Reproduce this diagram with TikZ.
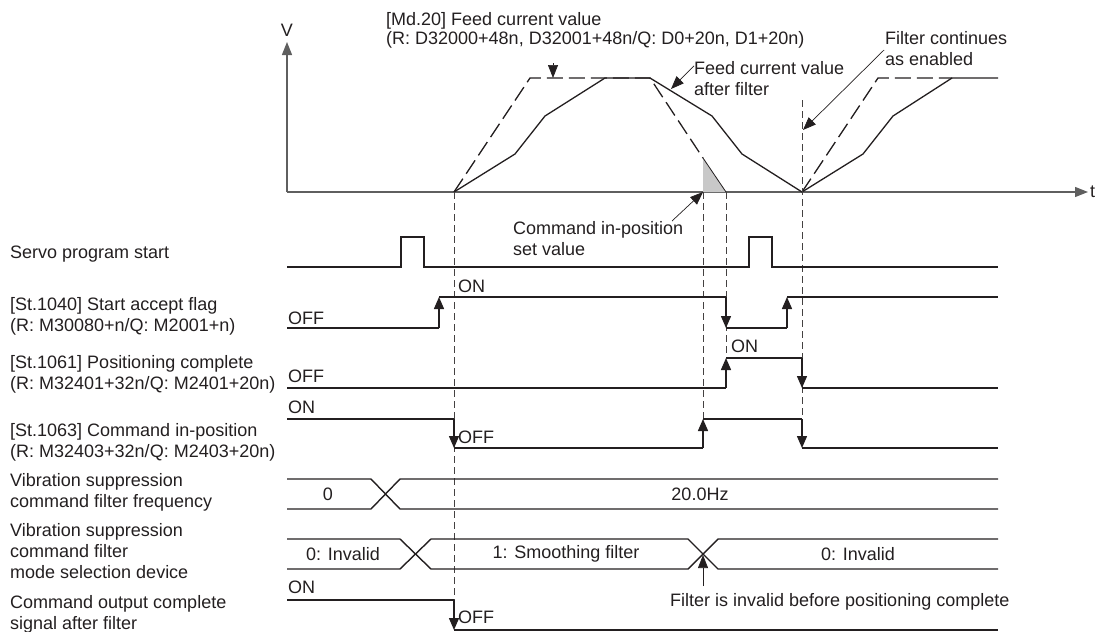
\documentclass[tikz,border=0pt]{standalone}
\usepackage{fontspec}
\setmainfont{Liberation Sans}
\usepackage{xcolor}
\usepackage{tikz}
\usetikzlibrary{arrows.meta, positioning}
\definecolor{inkgray}{RGB}{35,31,32}
\definecolor{axisgray}{RGB}{95,95,95}
\definecolor{shadegray}{RGB}{200,200,200}

\begin{document}
\begin{tikzpicture}[x=1pt, y=-1pt,
    lbl/.style={anchor=base west, align=left, inner sep=0pt, text=inkgray, font=\fontsize{18}{21}\selectfont},
    val/.style={anchor=center, inner sep=0pt, text=inkgray, font=\fontsize{18}{21}\selectfont},
    sig/.style={line width=1.4pt, draw=inkgray},
    flip/.style={line width=1.4pt, draw=inkgray, -{Triangle[length=12pt,width=10pt]}},
    axis/.style={line width=1.2pt, draw=axisgray, -{Triangle[length=13pt,width=10pt]}},
    guide/.style={dash pattern=on 7pt off 4pt, line width=0.9pt, draw=inkgray!85},
    cmdline/.style={dash pattern=on 16pt off 6pt, line width=1.3pt, draw=inkgray},
    filtline/.style={line width=1.3pt, draw=inkgray},
    lead/.style={line width=0.7pt, draw=inkgray, -{Triangle[length=13pt,width=10pt]}},
]
\useasboundingbox (0,0) rectangle (1096,632);

% axes of the speed graph
\coordinate (O) at (287,192);
\draw[axis] (O) -- (287,42);
\draw[axis] (O) -- (1088,192);
\node[val] (vlab) at (287,30) {V};
\node[val, anchor=west] (tlab) at (1090,192) {t};

% commanded and filtered profiles
\fill[shadegray] (703,158) -- (726,192) -- (703,192) -- cycle;
\draw[filtline, line width=0.8pt] (703,158) -- (726,192);
\draw[cmdline] (454,192) -- (530,78) -- (650,78) -- (703,158);
\draw[cmdline] (802,192) -- (878,78) -- (952,78);
\draw[filtline] (454,192) -- (515,154) -- (545,116) -- (605,78) -- (650,78)
  -- (712,116) -- (742,154) -- (802,192) -- (863,154) -- (893,116) -- (952,78) -- (998,78);

% timing guides
\draw[guide] (454,192) -- (454,625);
\draw[guide] (703,192) -- (703,420);
\draw[guide] (726,192) -- (726,358);
\draw[guide] (802,100) -- (802,420);

% notes on the graph (base = last line)
\node[lbl, font=\fontsize{18}{19}\selectfont] (feednote) at (386,44) {[Md.20] Feed current value\\(R: D32000+48n, D32001+48n/Q: D0+20n, D1+20n)};
\coordinate (feedtop) at (553,78);
\draw[lead] (553,63) -- (feedtop);
\node[lbl] (filtnote) at (694,95) {Feed current value\\after filter};
\coordinate (filtpt) at (671,89);
\draw[lead] (filtnote.north west) ++(0,5) -- (filtpt);
\node[lbl] (contnote) at (885,65) {Filter continues\\as enabled};
\coordinate (contpt) at (803,130);
\draw[lead] (884,50) -- (contpt);
\node[lbl] (inposnote) at (513,255) {Command in-position\\set value};
\coordinate (inpospt) at (703,192);
\draw[lead] (672,221) -- (inpospt);

% signal names
\node[lbl] (servolab) at (10,258) {Servo program start};
\node[lbl] (acclab) at (10,331) {[St.1040] Start accept flag\\(R: M30080+n/Q: M2001+n)};
\node[lbl] (pclab) at (10,389) {[St.1061] Positioning complete\\(R: M32401+32n/Q: M2401+20n)};
\node[lbl] (ciplab) at (10,457) {[St.1063] Command in-position\\(R: M32403+32n/Q: M2403+20n)};
\node[lbl] (freqlab) at (10,507) {Vibration suppression\\command filter frequency};
\node[lbl] (modelab) at (10,578) {Vibration suppression\\command filter\\mode selection device};
\node[lbl] (outlab) at (10,629) {Command output complete\\signal after filter};

% servo program start
\draw[sig] (287,267) -- (401,267) -- (401,237) -- (424,237) -- (424,267) -- (749,267)
  -- (749,237) -- (772,237) -- (772,267) -- (998,267);

% start accept flag
\draw[sig] (287,328) -- (439,328);
\draw[flip] (439,328) -- (439,297);
\draw[sig] (439,297) -- (726,297);
\draw[flip] (726,297) -- (726,328);
\draw[sig] (726,328) -- (787,328);
\draw[flip] (787,328) -- (787,297);
\draw[sig] (787,297) -- (998,297);
\node[lbl] (accoff) at (288,324) {OFF};
\node[lbl] (accon) at (458,292) {ON};

% positioning complete
\draw[sig] (287,388) -- (726,388);
\draw[flip] (726,388) -- (726,358);
\draw[sig] (726,358) -- (802,358);
\draw[flip] (802,358) -- (802,388);
\draw[sig] (802,388) -- (998,388);
\node[lbl] (pcoff) at (288,382) {OFF};
\node[lbl] (pcon) at (731,352) {ON};

% command in-position
\draw[sig] (287,419) -- (454,419);
\draw[flip] (454,419) -- (454,448);
\draw[sig] (454,448) -- (703,448);
\draw[flip] (703,448) -- (703,419);
\draw[sig] (703,419) -- (802,419);
\draw[flip] (802,419) -- (802,448);
\draw[sig] (802,448) -- (998,448);
\node[lbl] (cipon) at (288,413) {ON};
\node[lbl] (cipoff) at (458,443) {OFF};

% filter frequency
\draw[sig] (287,479) -- (371,479) -- (400,509) -- (998,509);
\draw[sig] (287,509) -- (371,509) -- (400,479) -- (998,479);
\node[val] (freqzero) at (328,494) {0};
\node[val] (freqhz) at (700,494) {20.0Hz};

% filter mode
\draw[sig] (287,539) -- (400,539) -- (431,569) -- (688,569) -- (718,539) -- (998,539);
\draw[sig] (287,569) -- (400,569) -- (431,539) -- (688,539) -- (718,569) -- (998,569);
\node[val] (modeoff) at (343,554) {0: Invalid};
\node[val] (modesmooth) at (566,554) {1: Smoothing filter};
\node[val] (modeoff2) at (858,554) {0: Invalid};
\node[lbl] (invnote) at (670,606) {Filter is invalid before positioning complete};
\coordinate (modecross) at (703,555);
\draw[lead] (703,586) -- (modecross);

% command output complete after filter
\draw[sig] (287,600) -- (454,600);
\draw[flip] (454,600) -- (454,630);
\draw[sig] (454,630) -- (998,630);
\node[lbl] (outon) at (288,593) {ON};
\node[lbl] (outoff) at (458,623) {OFF};
\end{tikzpicture}
\end{document}
